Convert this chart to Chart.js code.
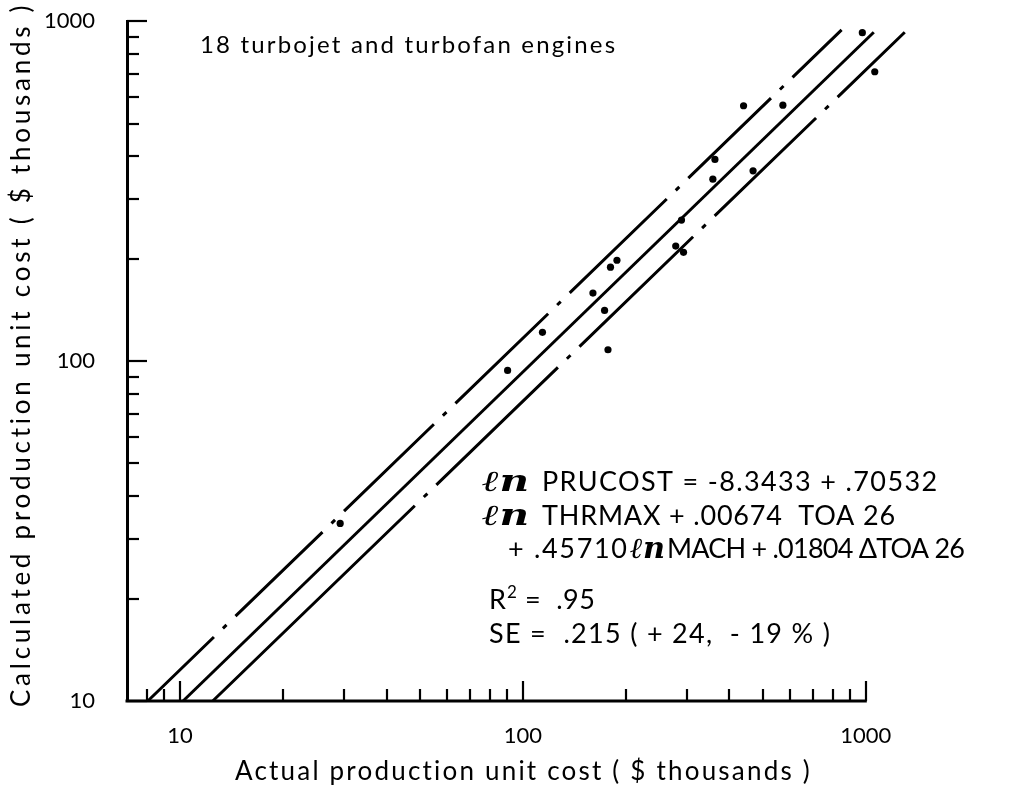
<!DOCTYPE html>
<html>
<head>
<meta charset="utf-8">
<script src="https://cdn.jsdelivr.net/npm/chart.js@4.4.1/dist/chart.umd.min.js"></script>
<style>
  html, body { margin: 0; padding: 0; background: #fff; }
  canvas { display: block; }
</style>
</head>
<body>
<canvas id="chart" width="1019" height="790"></canvas>
<script>
// Production unit cost of 18 engines, $ thousands
const actualCost     = [29.3, 90.2, 114, 160, 180, 188, 173, 177, 279, 294, 290, 363, 358, 469, 440, 573, 977, 1062];
const calculatedCost = [33.3, 93.9, 121.5, 158.5, 189, 198, 141, 108, 218, 209, 260, 392, 343, 363, 564, 566, 925, 710];

// Regression line and the one-standard-error band around it
const fitX   = [10.2, 1055];
const fitY   = [10, 928];
const upperX = [8.05, 850];
const upperY = [10, 943];
const lowerX = [12.45, 1299];
const lowerY = [10, 928];

// Axis ranges and ticks (the x range runs a little past the last decade
// so that the largest engine still sits inside the plot)
const xRange = [7, 1100];
const yRange = [10, 1000];
const xAxisEnd = 1000;
const xTickValues = [8, 9, 10, 20, 30, 40, 50, 60, 70, 80, 90, 100, 200, 300, 400, 500, 600, 700, 800, 900, 1000];
const yTickValues = [10, 20, 30, 40, 50, 60, 70, 80, 90, 100, 200, 300, 400, 500, 600, 700, 800, 900, 1000];
const labeledTicks = [10, 100, 1000];

const xTitle = 'Actual production unit cost ( $ thousands )';
const yTitle = 'Calculated production unit cost ( $ thousands )';
const sampleNote = '18 turbojet and turbofan engines';

const FONT = 'Lato, "DejaVu Sans", sans-serif';
const EQ_FONT = '27px ' + FONT;

// Long-dash / dot patterns of the hand-ruled band lines (pixels along the line)
const dashDot = dashes => dashes.flatMap(d => [d, 12.5, 5, 12.5]);
const upperDash = dashDot([92, 121, 125, 129, 135, 115, 300]);
const lowerDash = dashDot([281, 169, 158, 141, 300]);

const toPoints = (xs, ys) => xs.map((v, i) => ({ x: v, y: ys[i] }));

// Left-aligned text spaced out (or slightly tightened) to fill a given width
function spreadText(ctx, text, x, y, width) {
  ctx.letterSpacing = '0px';
  const natural = ctx.measureText(text).width;
  const n = [...text].length;
  const gap = n > 1 ? Math.max(-1.5, (width - natural) / (n - 1)) : 0;
  ctx.letterSpacing = gap.toFixed(2) + 'px';
  ctx.fillText(text, x, y);
  ctx.letterSpacing = '0px';
}

// Script "ln" used in the equation, stretched to a given width
function drawLn(ctx, x, y, width) {
  ctx.save();
  ctx.letterSpacing = '0px';
  ctx.font = 'italic bold 29px "DejaVu Serif", serif';
  const natural = ctx.measureText('ℓn').width;
  ctx.translate(x, y);
  ctx.scale(width / natural, 1);
  ctx.fillText('ℓn', 0, 0);
  ctx.restore();
}

// Axis line along x up to the last decade, and tick marks drawn on the
// inside of both axes, longer at each decade
const axisMarks = {
  id: 'axisMarks',
  afterDatasetsDraw(chart) {
    const { ctx, chartArea: a, scales: { x, y } } = chart;
    ctx.save();
    ctx.strokeStyle = '#000';
    ctx.lineCap = 'butt';

    ctx.lineWidth = 3;
    ctx.beginPath();
    ctx.moveTo(a.left - 1.5, a.bottom);
    ctx.lineTo(x.getPixelForValue(xAxisEnd) + 1, a.bottom);
    ctx.stroke();

    ctx.lineWidth = 2.2;
    xTickValues.forEach(v => {
      const px = Math.round(x.getPixelForValue(v));
      const len = labeledTicks.includes(v) ? 20 : 12;
      ctx.beginPath();
      ctx.moveTo(px, a.bottom);
      ctx.lineTo(px, a.bottom - len);
      ctx.stroke();
    });
    yTickValues.forEach(v => {
      const py = Math.round(y.getPixelForValue(v));
      const len = labeledTicks.includes(v) ? 20 : 12;
      ctx.beginPath();
      ctx.moveTo(a.left, py);
      ctx.lineTo(a.left + len, py);
      ctx.stroke();
    });
    ctx.restore();
  }
};

// Axis titles, the sample note and the regression equation
const annotations = {
  id: 'annotations',
  afterDraw(chart) {
    const { ctx } = chart;
    ctx.save();
    ctx.fillStyle = '#000';
    ctx.textAlign = 'left';

    // axis titles
    ctx.font = '26px ' + FONT;
    ctx.textBaseline = 'middle';
    spreadText(ctx, xTitle, 235, 772, 575);
    ctx.save();
    ctx.translate(22, 356);
    ctx.rotate(-Math.PI / 2);
    spreadText(ctx, yTitle, -351, 0, 702);
    ctx.restore();

    // sample note
    ctx.textBaseline = 'alphabetic';
    ctx.font = '24px ' + FONT;
    spreadText(ctx, sampleNote, 200, 53, 415);

    // regression equation
    ctx.font = EQ_FONT;
    drawLn(ctx, 482, 491, 47);
    spreadText(ctx, 'PRUCOST = -8.3433 + .70532', 542, 491, 395);
    drawLn(ctx, 482, 525, 47);
    spreadText(ctx, 'THRMAX + .00674  TOA 26', 542, 525, 353);
    spreadText(ctx, '+ .45710', 508, 558, 119);
    drawLn(ctx, 630, 558, 35);
    spreadText(ctx, 'MACH + .01804 ΔTOA 26', 667, 558, 298);

    spreadText(ctx, 'R', 489, 609, 17);
    ctx.font = '17px ' + FONT;
    ctx.fillText('2', 507, 598);
    ctx.font = EQ_FONT;
    spreadText(ctx, '=  .95', 525, 609, 70);
    spreadText(ctx, 'SE =  .215 ( + 24,  - 19 % )', 489, 643, 341);
    ctx.restore();
  }
};

const tickLabel = v => labeledTicks.includes(v) ? String(v) : '';

const lineStyle = {
  showLine: true,
  pointRadius: 0,
  borderColor: '#000',
  borderWidth: 3,
  borderCapStyle: 'butt',
  clip: false
};

new Chart(document.getElementById('chart'), {
  type: 'scatter',
  data: {
    datasets: [
      {
        label: 'Engines',
        data: toPoints(actualCost, calculatedCost),
        showLine: false,
        pointRadius: 3.6,
        pointBackgroundColor: '#000',
        pointBorderColor: '#000',
        pointBorderWidth: 0,
        clip: false
      },
      { label: 'Fit', data: toPoints(fitX, fitY), ...lineStyle },
      { label: '+1 SE', data: toPoints(upperX, upperY), ...lineStyle, borderDash: upperDash },
      { label: '-1 SE', data: toPoints(lowerX, lowerY), ...lineStyle, borderDash: lowerDash }
    ]
  },
  options: {
    responsive: false,
    animation: false,
    events: [],
    layout: { padding: { left: 0, right: 139, top: 21, bottom: 0 } },
    plugins: { legend: { display: false }, tooltip: { enabled: false } },
    scales: {
      x: {
        type: 'logarithmic',
        min: xRange[0],
        max: xRange[1],
        afterBuildTicks: s => { s.ticks = xTickValues.map(v => ({ value: v })); },
        afterFit: s => { s.height = 89; },
        grid: { display: false, drawTicks: false },
        border: { display: false },
        ticks: {
          autoSkip: false, maxRotation: 0, padding: 22, color: '#000',
          font: { family: FONT, size: 22 },
          callback: tickLabel
        }
      },
      y: {
        type: 'logarithmic',
        min: yRange[0],
        max: yRange[1],
        afterBuildTicks: s => { s.ticks = yTickValues.map(v => ({ value: v })); },
        afterFit: s => { s.width = 127; },
        grid: { display: false, drawTicks: true, tickLength: 24 },
        border: { display: true, width: 3, color: '#000' },
        ticks: {
          autoSkip: false, padding: 8, color: '#000',
          font: { family: FONT, size: 22 },
          callback: tickLabel
        }
      }
    }
  },
  plugins: [axisMarks, annotations]
});
</script>
</body>
</html>
